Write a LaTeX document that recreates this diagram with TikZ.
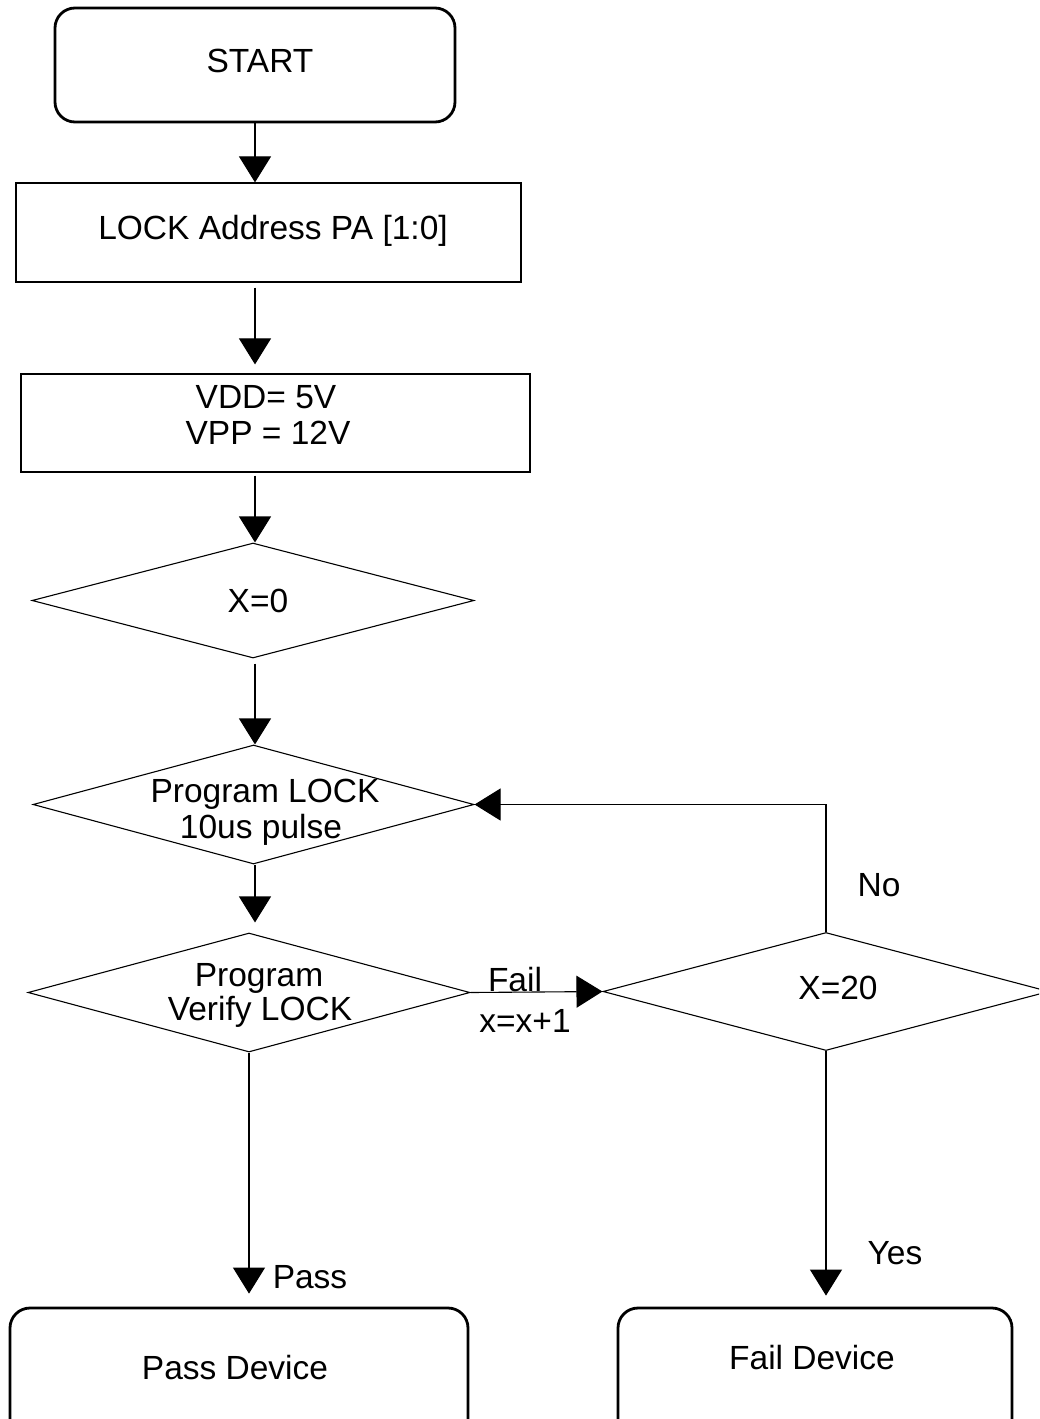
\documentclass[tikz,border=0pt]{standalone}
\usepackage{fontspec}
\setmainfont{Liberation Sans}
\usetikzlibrary{shapes.geometric,arrows.meta}
\tikzset{
  term/.style={draw, rounded corners=20pt, line width=2.8pt, inner sep=0pt},
  procbox/.style={draw, line width=1.2pt, inner sep=0pt},
  decide/.style={draw, diamond, line width=1.1pt, inner sep=0pt},
  txt/.style={inner sep=0pt, anchor=base, font=\fontsize{33.5}{36}\selectfont},
  arr/.style={line width=1.1pt, -{Triangle[width=32pt,length=26pt]}}
}
\begin{document}
\begin{tikzpicture}[x=1pt,y=-1pt]
\useasboundingbox (0,0) rectangle (1039,1419);
\clip (0,0) rectangle (1039,1419);
% shapes
\node[term, minimum width=400pt, minimum height=114pt] (start) at (255,65) {};
\node[procbox, minimum width=505pt, minimum height=99pt] (lockbox) at (268.5,232.5) {};
\node[procbox, minimum width=509pt, minimum height=98pt] (vbox) at (275.5,423) {};
\node[decide, minimum width=442pt, minimum height=115pt] (d0) at (253,600.5) {};
\node[decide, minimum width=441pt, minimum height=119pt] (plock) at (253.5,804.5) {};
\node[decide, minimum width=442pt, minimum height=119pt] (pv) at (249,992.5) {};
\node[decide, minimum width=446pt, minimum height=118pt] (x20) at (826,991.5) {};
\node[term, minimum width=458pt, minimum height=160pt] (passbox) at (239,1388) {};
\node[term, minimum width=394pt, minimum height=160pt] (failbox) at (815,1388) {};
% texts
\node[txt] (tstart) at (260,72) {START};
\node[txt] (tlock) at (273,239) {LOCK Address PA [1:0]};
\node[txt] (tvdd) at (266,408) {VDD= 5V};
\node[txt] (tvpp) at (268,444) {VPP = 12V};
\node[txt] (tx0) at (258,612) {X=0};
\node[txt] (tpl1) at (265,802) {Program LOCK};
\node[txt] (tpl2) at (261,838) {10us pulse};
\node[txt] (tpv1) at (259,986) {Program};
\node[txt] (tpv2) at (260,1020) {Verify LOCK};
\node[txt] (tfail) at (515,991) {Fail};
\node[txt] (tinc) at (525,1032) {x=x+1};
\node[txt] (tx20) at (838,999) {X=20};
\node[txt] (tno) at (879,896) {No};
\node[txt] (tyes) at (895,1264) {Yes};
\node[txt] (tpass) at (310,1288) {Pass};
\node[txt] (tpd) at (235,1379) {Pass Device};
\node[txt] (tfd) at (812,1369) {Fail Device};
% connectors
\draw[arr] (start.south) -- (start.south |- lockbox.north);
\draw[arr] ([yshift=-5pt]lockbox.south -| start.south) -- ([yshift=9pt]vbox.north -| start.south);
\draw[arr] ([yshift=-3pt]vbox.south -| start.south) -- (vbox.north |- d0.north -| start.south);
\draw[arr] ([yshift=-5pt]d0.south -| start.south) -- (plock.north -| start.south);
\draw[arr] (plock.south -| start.south) -- ([yshift=10pt]pv.north -| start.south);
\draw[arr] (pv.east) -- (x20.west);
\draw[arr] (x20.north) |- (plock.east);
\draw[arr] (pv.south) -- ([yshift=13pt]pv.south |- passbox.north);
\draw[arr] (x20.south) -- ([yshift=11pt]x20.south |- failbox.north);
\end{tikzpicture}
\end{document}
